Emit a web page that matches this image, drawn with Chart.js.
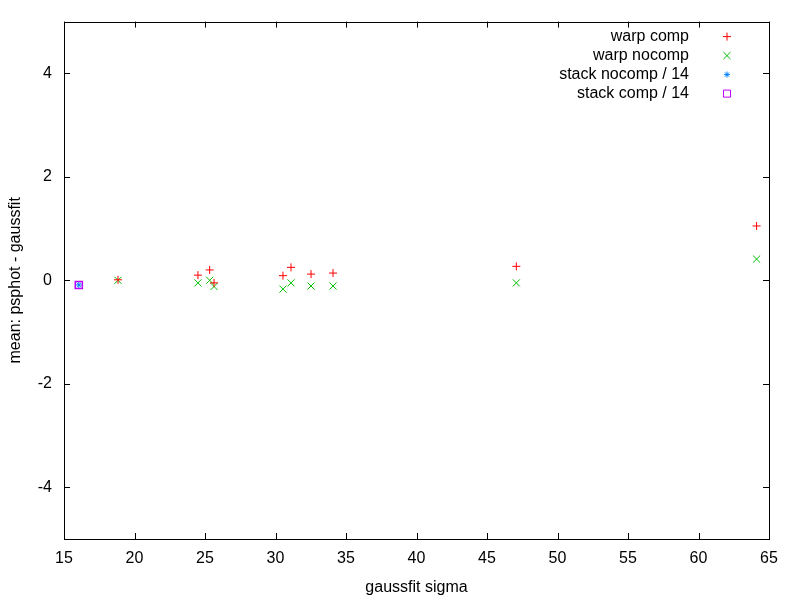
<!DOCTYPE html>
<html>
<head>
<meta charset="utf-8">
<script src="https://cdn.jsdelivr.net/npm/chart.js@4/dist/chart.umd.min.js"></script>
<style>
  html, body { margin: 0; padding: 0; background: #fff; }
  #wrap { width: 800px; height: 600px; }
</style>
</head>
<body>
<div id="wrap"><canvas id="plot"></canvas></div>
<script>
// data
const warpSigma    = [18.83, 24.50, 25.33, 25.64, 30.53, 31.10, 32.52, 34.08, 47.08, 64.12];
const warpComp     = [0.01, 0.10, 0.20, -0.05, 0.09, 0.25, 0.12, 0.14, 0.27, 1.05];
const warpNocomp   = [0.00, -0.05, 0.00, -0.12, -0.17, -0.05, -0.11, -0.11, -0.05, 0.41];
const stackSigma   = [16.05];
const stackNocomp  = [-0.09];
const stackComp    = [-0.09];
const xTicks = [15, 20, 25, 30, 35, 40, 45, 50, 55, 60, 65];
const yTicks = [-4, -2, 0, 2, 4];

const FONT = "'Liberation Sans', Arial, sans-serif";
const FSIZE = 16;

function pts(xs, ys) {
    return xs.map(function(x, i) { return { x: x, y: ys[i] }; });
}

// box + inward ticks (gnuplot style) and the key at top right
const gnuFrame = {
    id: 'gnuFrame',
    afterDatasetsDraw: function(chart) {
        const ctx = chart.ctx;
        const a = chart.chartArea;
        const xs = chart.scales.x, ys = chart.scales.y;
        ctx.save();
        ctx.strokeStyle = '#000';
        ctx.lineWidth = 1;
        ctx.beginPath();
        xTicks.forEach(function(v) {
            const px = Math.round(xs.getPixelForValue(v)) + 0.5;
            ctx.moveTo(px, a.bottom); ctx.lineTo(px, a.bottom - 6);
            ctx.moveTo(px, a.top); ctx.lineTo(px, a.top + 6);
        });
        yTicks.forEach(function(v) {
            const py = Math.round(ys.getPixelForValue(v)) + 0.5;
            ctx.moveTo(a.left, py); ctx.lineTo(a.left + 6, py);
            ctx.moveTo(a.right, py); ctx.lineTo(a.right - 6, py);
        });
        ctx.stroke();
        ctx.strokeRect(Math.round(a.left) + 0.5, Math.round(a.top) + 0.5,
                       Math.round(a.right - a.left), Math.round(a.bottom - a.top));

        // key
        ctx.font = FSIZE + 'px ' + FONT;
        ctx.textAlign = 'right';
        ctx.textBaseline = 'middle';
        chart.data.datasets.forEach(function(ds, i) {
            const y = a.top + 15 + i * 19;
            ctx.fillStyle = '#000';
            ctx.fillText(ds.label, a.right - 80, y);
            ctx.fillStyle = 'rgba(0,0,0,0)';
            ctx.strokeStyle = ds.borderColor;
            ctx.lineWidth = 1;
            Chart.helpers.drawPoint(ctx, {
                pointStyle: ds.pointStyle,
                radius: ds.pointRadius,
                rotation: 0,
                borderWidth: 1
            }, a.right - 42, y);
        });
        ctx.restore();
    }
};

new Chart(document.getElementById('plot'), {
    type: 'scatter',
    data: {
        datasets: [{
            label: 'warp comp',
            data: pts(warpSigma, warpComp),
            pointStyle: 'cross',
            borderColor: '#ff0000',
            backgroundColor: 'rgba(0,0,0,0)',
            pointRadius: 4,
            borderWidth: 1
        }, {
            label: 'warp nocomp',
            data: pts(warpSigma, warpNocomp),
            pointStyle: 'crossRot',
            borderColor: '#00c000',
            backgroundColor: 'rgba(0,0,0,0)',
            pointRadius: 5,
            borderWidth: 1
        }, {
            label: 'stack nocomp / 14',
            data: pts(stackSigma, stackNocomp),
            pointStyle: 'star',
            borderColor: '#0080ff',
            backgroundColor: 'rgba(0,0,0,0)',
            pointRadius: 3,
            borderWidth: 1
        }, {
            label: 'stack comp / 14',
            data: pts(stackSigma, stackComp),
            pointStyle: 'rect',
            borderColor: '#c000ff',
            backgroundColor: 'rgba(0,0,0,0)',
            pointRadius: 5,
            borderWidth: 1.5
        }]
    },
    options: {
        responsive: true,
        maintainAspectRatio: false,
        animation: false,
        layout: { padding: { top: 16, right: 31, left: 0, bottom: 0 } },
        plugins: {
            legend: { display: false },
            tooltip: { enabled: false }
        },
        scales: {
            x: {
                type: 'linear',
                min: 15,
                max: 65,
                afterBuildTicks: function(scale) {
                    scale.ticks = xTicks.map(function(v) { return { value: v }; });
                },
                afterFit: function(scale) { scale.height = 61; },
                grid: { display: false, drawTicks: false },
                border: { display: false },
                ticks: {
                    color: '#000',
                    padding: 10,
                    maxRotation: 0,
                    font: { family: FONT, size: FSIZE }
                },
                title: {
                    display: true,
                    text: 'gaussfit sigma',
                    color: '#000',
                    font: { family: FONT, size: FSIZE },
                    padding: { top: 4, bottom: 3 }
                }
            },
            y: {
                type: 'linear',
                min: -5,
                max: 5,
                afterBuildTicks: function(scale) {
                    scale.ticks = yTicks.map(function(v) { return { value: v }; });
                },
                afterFit: function(scale) { scale.width = 64; },
                grid: { display: false, drawTicks: false },
                border: { display: false },
                ticks: {
                    color: '#000',
                    padding: 12,
                    font: { family: FONT, size: FSIZE }
                },
                title: {
                    display: true,
                    text: 'mean: psphot - gaussfit',
                    color: '#000',
                    font: { family: FONT, size: FSIZE },
                    padding: { top: 6, bottom: 4 }
                }
            }
        }
    },
    plugins: [gnuFrame]
});
</script>
</body>
</html>
